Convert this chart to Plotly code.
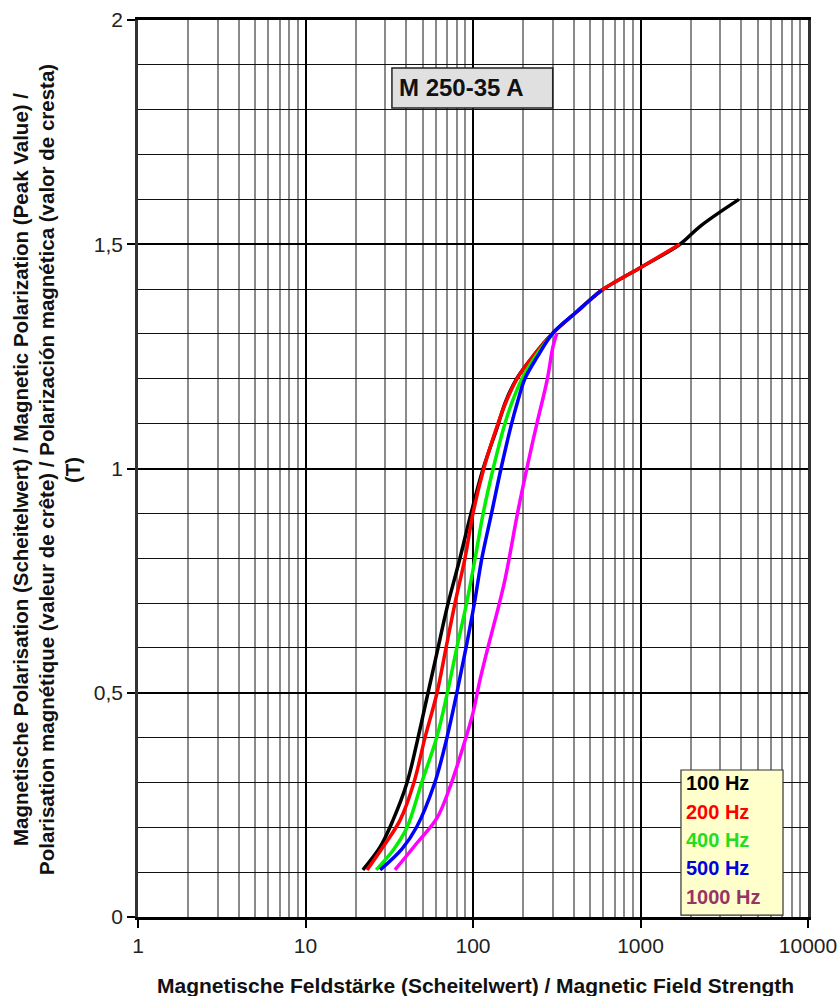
import plotly.graph_objects as go

# ---- data ----
B_100 = [0.105, 0.156, 0.216, 0.30, 0.40, 0.50, 0.59, 0.69, 0.80, 0.90, 1.00, 1.09, 1.15, 1.20, 1.25, 1.302, 1.35, 1.374, 1.398, 1.45, 1.50, 1.54, 1.60]
H_100 = [22.0, 27.9, 33.3, 40.4, 47.0, 53.9, 61.0, 70.0, 83.6, 97.3, 115, 139, 157, 182, 228, 300, 418, 493, 589, 1020, 1720, 2270, 3870]

B_200 = [0.105, 0.156, 0.216, 0.30, 0.40, 0.50, 0.60, 0.70, 0.80, 0.90, 1.00, 1.10, 1.15, 1.20, 1.25, 1.302, 1.35, 1.374, 1.398, 1.45, 1.50]
H_200 = [23.3, 29.0, 36.7, 44.4, 51.7, 61.0, 69.0, 78.1, 89.6, 100, 116, 141, 158, 183, 228, 300, 418, 493, 589, 1020, 1720]

B_400 = [0.105, 0.15, 0.20, 0.30, 0.40, 0.50, 0.60, 0.70, 0.80, 0.90, 1.00, 1.10, 1.15, 1.20, 1.25, 1.302]
H_400 = [26.4, 33.5, 40.4, 49.4, 60.7, 70.3, 80.0, 91.6, 103, 115, 132, 155, 172, 196, 236, 300]

B_500 = [0.105, 0.152, 0.20, 0.30, 0.40, 0.50, 0.60, 0.70, 0.80, 0.90, 1.00, 1.10, 1.15, 1.20, 1.25, 1.302, 1.35, 1.374, 1.398]
H_500 = [27.9, 37.7, 46.0, 59.2, 69.9, 80.1, 90.8, 102, 113, 129, 147, 170, 185, 204, 243, 300, 418, 493, 589]

B_1000 = [0.105, 0.165, 0.221, 0.29, 0.379, 0.455, 0.528, 0.602, 0.678, 0.751, 0.907, 1.012, 1.101, 1.197, 1.271, 1.302]
H_1000 = [34.2, 46.3, 61.0, 72.9, 87.2, 100, 110, 123, 139, 155, 186, 213, 241, 277, 300, 317]

series = [
    ("100 Hz", H_100, B_100, "#000000", "#000000"),
    ("200 Hz", H_200, B_200, "#ff0000", "#ff0000"),
    ("400 Hz", H_400, B_400, "#00f000", "#22dd22"),
    ("500 Hz", H_500, B_500, "#0000ff", "#0000dd"),
    ("1000 Hz", H_1000, B_1000, "#ff00ff", "#993366"),
]

y_tickvals = [0, 0.5, 1, 1.5, 2]
y_ticktext = ["0", "0,5", "1", "1,5", "2"]
x_tickvals = [1, 10, 100, 1000, 10000]
x_ticktext = ["1", "10", "100", "1000", "10000"]

y_title_lines = [
    "Magnetische Polarisation (Scheitelwert) / Magnetic Polarization (Peak Value) /",
    "Polarisation magnétique (valeur de crête) / Polarización magnética (valor de cresta)",
    "(T)",
]
x_title = "Magnetische Feldstärke (Scheitelwert) / Magnetic Field Strength"

FONT = "Liberation Sans, Arial, sans-serif"

fig = go.Figure()
for name, h, b, col, _ in series:
    fig.add_trace(go.Scatter(x=h, y=b, mode="lines", name=name,
                             line=dict(color=col, width=3.5, shape="spline", smoothing=1.0),
                             showlegend=False, hoverinfo="skip"))

fig.update_layout(
    width=839, height=996,
    margin=dict(l=138, r=31, t=20, b=79, autoexpand=False),
    paper_bgcolor="white", plot_bgcolor="white",
    font=dict(family=FONT, color="#222"),
)

fig.update_xaxes(
    type="log", range=[0, 4], automargin=False,
    tickvals=x_tickvals, ticktext=x_ticktext,
    tickfont=dict(size=21, color="#222"),
    ticks="outside", ticklen=8, tickcolor="black", tickwidth=1.5,
    showgrid=True, gridcolor="black", gridwidth=2,
    minor=dict(dtick="D1", showgrid=True, gridcolor="#8a8a8a", gridwidth=1.8, ticks=""),
    showline=True, linecolor="black", linewidth=2.5, mirror=True,
    zeroline=False,
)
fig.update_yaxes(
    range=[0, 2], automargin=False,
    tickvals=y_tickvals, ticktext=y_ticktext,
    tickfont=dict(size=21, color="#222"),
    ticks="outside", ticklen=8, tickcolor="black", tickwidth=1.5,
    showgrid=True, gridcolor="black", gridwidth=2,
    minor=dict(dtick=0.1, showgrid=True, gridcolor="#111", gridwidth=1, ticks=""),
    showline=True, linecolor="#333", linewidth=2.5, mirror=True,
    zeroline=False,
)

shapes = []
# title box
shapes.append(dict(type="rect", xref="paper", yref="paper",
                   x0=0.379, x1=0.619, y0=0.902, y1=0.9465,
                   fillcolor="#e0e0e0", line=dict(color="#222", width=1.5), layer="above"))
# legend box
shapes.append(dict(type="rect", xref="paper", yref="paper",
                   x0=0.8104, x1=0.9627, y0=0.002, y1=0.1639,
                   fillcolor="#ffffcc", line=dict(color="#333", width=1.2), layer="above"))
fig.update_layout(shapes=shapes)

ann = []
ann.append(dict(xref="paper", yref="paper", x=(397 - 138) / 670, y=0.9243, xanchor="left", yanchor="middle",
                text="<b>M 250-35 A</b>", showarrow=False,
                font=dict(size=24, color="#111", family=FONT)))
leg_y = [783, 812, 840, 868, 897]
for (name, _, _, _, tcol), py in zip(series, leg_y):
    ann.append(dict(xref="paper", yref="paper", x=(684 - 138) / 670, y=(917 - py) / 897,
                    xanchor="left", yanchor="middle", text="<b>%s</b>" % name, showarrow=False,
                    font=dict(size=20, color=tcol, family=FONT)))
# axis titles
ann.append(dict(xref="paper", yref="paper", x=(475 - 138) / 670, y=0, yshift=-68,
                xanchor="center", yanchor="middle", showarrow=False,
                text="<b>%s</b>" % x_title,
                font=dict(size=21, color="#111", family=FONT)))
for line, px in zip(y_title_lines, [20, 46, 72]):
    ann.append(dict(xref="paper", yref="paper", x=0, xshift=-(138 - px), y=(917 - 470) / 897,
                    xanchor="center", yanchor="middle", showarrow=False, textangle=-90,
                    text="<b>%s</b>" % line,
                    font=dict(size=20.5, color="#111", family=FONT)))
fig.update_layout(annotations=ann)

fig.write_html("out.html")
